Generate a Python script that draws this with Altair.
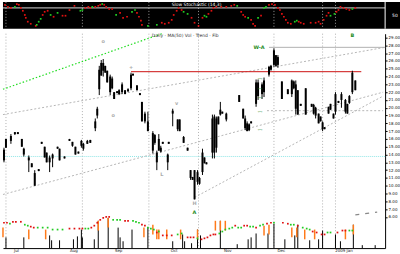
import json
import altair as alt
import pandas as pd

# ---------------- price bars (candles) ----------------
bar_t = [1,3,8,12,15,19,21,26,29,32,
         36,39,42,44,47,50,55,57,62,67,
         70,73,76,79,81,85,88,93,95,97,
         99,101,103,105,108,110,112,115,117,120,
         123,126,129,131,135,138,140,143,146,151,
         153,155,157,159,161,166,167,171,176,178,
         182,186,189,191,193,196,198,201,203,205,
         211,213,215,217,219,221,225,238,242,244,
         246,248,250,255,257,261,263,268,270,273,
         275,277,281,287,291,293,295,297,300,305,
         311,313,315,318,320,322,324,328,330,333,
         335,338,341,345,347,349,352,355]
bar_high = [14.875,16,16.625,16.875,16.875,16,14.875,13.875,12.875,12,
            12.125,15.625,15,14.25,13.875,14.125,15,14.75,13.75,16,
            15.625,15,14.375,15.875,15.5,15.875,15.875,18.625,20.125,25.375,
            26.125,26.25,25.375,24.75,24.25,24,22,22.125,22.375,23.25,
            22.25,22.5,24.5,24.375,22.875,21.875,20.75,19.5,19.5,17,
            16.625,14.5,16.625,15.125,15.625,14.125,15.625,19.875,18.5,18.5,
            16.375,14.875,12,11.125,12,12,11.125,14.75,13.625,13,
            19.125,19.125,18.875,18.875,20.75,19.5,19.375,21.625,19.875,19,
            18.25,18,18.25,23.625,23.625,23.25,23.875,25.375,25.5,27.625,
            26.75,26.75,23.375,22.375,23.625,23.5,23.5,22.25,20.5,22.5,
            20.5,20.5,20.125,19.25,18.875,18.25,17.5,20.125,20.5,19.25,
            22,20.875,22,21.125,20.5,21.625,24.75,23.5]
bar_low = [13,14.875,15.375,16.5,16.625,15,13.75,11.75,12.375,10,
           11.875,15.375,13.625,13,11.75,12.375,14.75,13.25,13.5,15.75,
           15,14,14.125,14.875,14.5,15.375,15.5,17,18.625,21.625,
           24.125,24,24.5,23.25,21.625,22.375,21.125,21.875,21.625,21.75,
           21.75,22,22.25,24.125,22.25,21.625,18.25,18,17,14.125,
           15.25,12,14.5,14.25,15.375,12,15.375,17.625,17,17,
           15.5,14.5,10.75,10.75,8.25,10.125,10.125,11.375,12.875,12.75,
           13.5,13.5,14.25,17.875,19,19.25,18.25,20.75,18.625,17.125,
           17,17,18,20.125,21,21.125,21.375,24,24.75,25.25,
           25.25,25.125,21.125,21.75,21.375,22.375,19.125,19.125,20.25,19.125,
           20.125,19.125,18.625,18,18.25,17,17.25,19.25,19.75,18.625,
           19.125,20.625,20,19.25,19.25,20.5,21.75,22.25]
bar_open = [14.625,16,16.375,16.875,16.875,16,14.75,13.625,12.875,11.625,
            12.125,15.625,15,14.25,13.625,14,15,14.75,13.75,16,
            15.625,15,14.375,15.75,15.375,15.75,15.875,18.25,19.875,24.875,
            25.75,25.75,25.375,24.75,24,23.75,22,22.125,22.25,23,
            22.25,22.375,24.25,24.375,22.875,21.875,20.75,19.25,18.25,16.75,
            16.5,14.25,16,14.875,15.625,14,15.625,19.625,18.5,18.5,
            16.25,14.875,12,11.125,12,11.75,11,14.25,13.625,13,
            18.625,18.875,18.625,18.875,19.75,19.5,19.25,21.625,19.875,18.625,
            18,17.875,18.25,23.25,23.25,23,23.5,25.25,25.375,27.375,
            26.75,26.5,23.375,22.375,23.5,23.375,23,22.25,20.5,22.5,
            20.5,20.375,20,19.25,18.875,18.125,17.5,20.125,20.5,19.25,
            21.75,20.875,21.75,21,20.5,21.5,24.5,23.5]
bar_close = [13.25,14.875,15.75,16.625,16.625,15,14,13.25,12.375,10,
             11.875,15.375,13.625,13,13,13.5,14.75,13.25,13.5,15.75,
             15.125,14,14.125,15.125,14.75,15.375,15.5,17.375,19,22.375,
             24.125,24.75,24.5,23.25,22,22.5,21.125,21.875,21.75,22,
             21.75,22.125,22.5,24.125,22.25,21.625,18.25,18.25,17,14.5,
             15.5,13,14.5,14.375,15.375,13,15.375,19.25,17.25,17,
             15.5,14.5,11,10.75,8.25,10.5,10.25,11.75,12.875,12.75,
             14.25,14.25,14.875,17.875,19.125,19.25,18.5,20.75,18.625,17.375,
             17,17.125,18,20.5,21.5,21.75,22,24.25,24.875,25.5,
             25.375,25.5,21.125,21.75,21.75,22.5,19.875,19.125,20.25,19.125,
             20.125,19.25,19,18,18.25,17.25,17.25,19.25,19.75,18.625,
             19.5,20.625,21,19.5,19.25,20.625,22,22.25]

# ---------------- volume ----------------
vol_t = [0,3,21,26,43,47,49,57,71,75,79,80,92,96,106,116,118,121,130,142,
         146,151,155,157,165,171,179,181,183,190,196,199,214,219,224,236,247,250,255,263,
         267,268,273,284,291,294,296,297,304,309,314,318,322,335,340,345,353,362,375]
vol_v = [210,110,110,190,190,130,80,80,90,120,190,110,90,280,310,210,110,70,190,210,
         210,240,190,190,190,70,190,140,70,50,190,130,280,280,280,40,90,110,150,230,
         150,240,250,90,210,130,210,240,190,80,190,90,180,140,70,190,240,30,30]
vol_kind = ['o','k','k','o','o','k','k','k','k','k','k','k','k','ko','ko','k','k','k','k','o',
            'k','o','o','o','o','k','o','k','k','k','ko','k','o','ko','o','k','k','k','k','o',
            'k','o','k','k','o','k','o','k','o','k','o','k','k','k','k','o','ko','k','k']

# volume moving average dots
vma_t = [1,4,7,10,13,18,22,25,28,31,35,40,45,50,55,60,67,72,77,80,
         83,86,89,92,95,98,101,104,107,111,115,118,123,126,131,134,137,140,143,146,
         149,152,155,157,161,165,170,176,180,186,189,192,196,200,203,206,209,212,214,218,
         221,224,228,231,234,237,240,243,246,249,252,255,259,262,266,270,273,282,287,290,
         293,297,302,306,309,312,316,321,324,327,330,337,342,345,349,352]
vma_v = [260,260,250,270,270,270,240,230,220,210,210,210,210,190,190,190,200,200,200,200,
         200,200,210,230,260,290,310,320,320,290,290,290,280,280,280,270,260,240,230,210,
         200,190,160,170,130,130,130,140,150,110,110,110,100,90,100,110,130,140,140,150,
         170,190,200,210,230,210,210,230,230,220,220,210,230,240,250,260,260,260,250,240,
         240,230,210,200,190,170,160,140,140,160,160,160,180,180,180,180]
vma_c = ['r','r','g','r','r','r','g','g','r','r','g','g','g','g','g','g','r','r','r','r',
         'g','g','r','r','r','r','r','r','r','g','g','g','r','r','g','g','g','r','r','g',
         'g','g','r','g','r','r','r','g','g','r','r','r','g','r','r','r','r','r','r','g',
         'g','g','g','g','r','g','g','r','r','g','g','r','g','g','r','r','g','r','r','g',
         'g','r','g','g','g','r','r','r','r','g','g','r','r','r','g','g']

# ---------------- oscillator (top panel) ----------------
osc_t = [2,5,8,12,14,16,18,20,22,23,25,28,33,34,36,38,40,42,45,48,
         51,55,60,63,67,72,78,80,83,86,88,90,93,96,98,100,102,104,107,110,
         114,118,121,125,130,133,135,137,139,140,146,155,160,163,167,170,172,175,177,180,
         182,186,190,193,197,201,203,205,207,210,212,215,220,225,230,233,236,240,242,244,
         247,250,252,254,257,260,263,265,268,271,274,277,279,281,283,285,287,290,294,296,
         298,300,303,310,315,318,320,323,326,328,330,334,336,338,340,343,346,349,352,355]
osc_v = [92,84,80,84,95,92,80,69,53,42,27,19,11,15,27,38,53,65,69,53,
         46,61,50,50,72,88,69,72,80,84,80,84,84,88,92,95,92,84,76,76,
         53,61,42,46,65,72,61,46,31,15,11,15,23,19,23,34,53,69,80,72,
         65,57,42,23,11,42,50,46,57,69,80,84,84,84,88,92,88,65,53,46,
         42,34,19,11,42,50,80,84,92,95,92,80,72,57,46,34,23,19,27,31,
         27,23,19,23,23,27,19,34,50,61,50,57,65,72,84,80,76,72,76,80]
osc_green_t = [12,34,36,38,48,55,78,80,90,100,114,130,133,146,155,182,186,203,205,
               236,247,257,263,265,294,296,330,334,352]
osc_ref = 80

# ---------------- reference lines ----------------
grid_t = [3, 80, 147, 197, 273, 322, 335]
cyan_level = [13.75]
dotted_id = ['a','a','b','b','c','c','d','d']
dotted_t = [0, 385, 0, 383, 193, 383, 266, 383]
dotted_p = [19.125, 27.75, 8.875, 22.0, 8.5, 21.5, 19.625, 19.625]
green_t = [0, 160]
green_p = [22.375, 29.5]
red_t = [129, 361]
red_p = 24.625
gray_t = [268, 385]
gray_p = 27.75
dash_t = [355, 377]
dash_p = [6.25, 6.625]

# ---------------- labels ----------------
lab_t = [101, 111, 129, 175, 160, 193, 193, 352, 258]
lab_p = [28.625, 19.125, 25.25, 20.625, 11.5, 7.75, 6.625, 29.375, 27.75]
lab_txt = ['o', 'o', '+', 'v', 'L', 'H', 'A', 'B', 'W-A']
lab_col = ['#aaaaaa','#aaaaaa','#aaaaaa','#aaaaaa','#aaaaaa','#aaaaaa','#1a8a1a','#1a8a1a','#1a8a1a']
fib_t = [259, 259, 259, 259, 259]
fib_p = [23.625, 22.375, 21.25, 19.5, 17.125]
fib_txt = ['-·-', '-·-', '-·-', '-·-', '-·-']

price_ticks = list(range(6, 30))
month_pos = [13, 71, 116, 172, 226, 280, 343]
month_lab = ['Jul', 'Aug', 'Sep', 'Oct', 'Nov', 'Dec', '2009 Jan']

PRICE_DOMAIN = [2.0, 29.5]
VOL_DOMAIN = [0, 2200]
X_MAX = 385

# ---------------- frames ----------------
bars_df = pd.DataFrame({'t': bar_t, 'high': bar_high, 'low': bar_low,
                        'open': bar_open, 'close': bar_close})
vol_df = pd.DataFrame({'t': vol_t, 'v': vol_v, 'kind': vol_kind})
vol_df['base'] = 0
vol_df['otop'] = vol_df['v']
vol_df['obot'] = vol_df['v'] - 100
vol_black = vol_df[vol_df['kind'].str.contains('k')]
vol_orange = vol_df[vol_df['kind'].str.contains('o')]
vma_df = pd.DataFrame({'t': vma_t, 'v': vma_v, 'c': vma_c})
osc_df = pd.DataFrame({'t': osc_t, 'o': osc_v})
osc_df['c'] = ['g' if t in osc_green_t else 'r' for t in osc_t]

grid_df = pd.DataFrame({'t': grid_t})
cyan_df = pd.DataFrame({'p': cyan_level})
dotted_df = pd.DataFrame({'id': dotted_id, 't': dotted_t, 'p': dotted_p})
green_df = pd.DataFrame({'t': green_t, 'p': green_p})
red_df = pd.DataFrame({'t': [red_t[0]], 't2': [red_t[1]], 'p': [red_p]})
gray_df = pd.DataFrame({'t': [gray_t[0]], 't2': [gray_t[1]], 'p': [gray_p]})
dash_df = pd.DataFrame({'t': dash_t, 'p': dash_p})
lab_df = pd.DataFrame({'t': lab_t, 'p': lab_p, 'txt': lab_txt, 'col': lab_col})
fib_df = pd.DataFrame({'t': fib_t, 'p': fib_p, 'txt': fib_txt})

# ---------------- scales / axes ----------------
label_expr = "%s[indexof(%s, datum.value)]" % (json.dumps(month_lab), json.dumps(month_pos))
x_axis = alt.Axis(values=month_pos, labelExpr=label_expr, tickSize=0, domainColor='#000',
                  labelFontSize=4, labelPadding=0, grid=False, title=None,
                  labelColor='#222', labelOverlap=False, labelFont='DejaVu Sans')
xs = alt.Scale(domain=[0, X_MAX], nice=False, zero=False)
X = alt.X('t:Q', scale=xs, axis=x_axis)
price_scale = alt.Scale(domain=PRICE_DOMAIN, nice=False, zero=False)
price_axis = alt.Axis(orient='right', values=price_ticks, format='.2f', labelFontSize=4,
                      labelColor='#111', tickSize=2, tickColor='#000', domainColor='#000',
                      grid=False, labelPadding=1, title=None, labelFont='DejaVu Sans')


def PY(field):
    return alt.Y(field, scale=price_scale, axis=price_axis)


vol_scale = alt.Scale(domain=VOL_DOMAIN, nice=False, zero=False)

grid = alt.Chart(grid_df).mark_rule(color='#b0b0b0', strokeDash=[1, 2], strokeWidth=1).encode(x=X)
cyan = alt.Chart(cyan_df).mark_rule(color='#8fe6e6', strokeDash=[1, 1], strokeWidth=1).encode(y=PY('p:Q'))
dotted = alt.Chart(dotted_df).mark_line(color='#b5b5b5', strokeDash=[2, 2], strokeWidth=1).encode(
    x=X, y=PY('p:Q'), detail='id:N')
green = alt.Chart(green_df).mark_line(color='#22dd22', strokeDash=[1.5, 2], strokeWidth=1.2).encode(
    x=X, y=PY('p:Q'))
red = alt.Chart(red_df).mark_rule(color='#cc1111', strokeWidth=1).encode(x=X, x2='t2:Q', y=PY('p:Q'))
gray = alt.Chart(gray_df).mark_rule(color='#b0b0b0', strokeWidth=1).encode(x=X, x2='t2:Q', y=PY('p:Q'))
dash = alt.Chart(dash_df).mark_line(color='#888888', strokeDash=[4, 6], strokeWidth=1.3).encode(
    x=X, y=PY('p:Q'))
wick = alt.Chart(bars_df).mark_rule(color='#000', strokeWidth=1).encode(x=X, y=PY('high:Q'), y2='low:Q')
body = alt.Chart(bars_df).mark_rule(color='#000', strokeWidth=2).encode(x=X, y=PY('open:Q'), y2='close:Q')
labels = alt.Chart(lab_df).mark_text(fontSize=5, fontWeight='bold', font='DejaVu Sans').encode(
    x=X, y=PY('p:Q'), text='txt:N', color=alt.Color('col:N', scale=None))
fibs = alt.Chart(fib_df).mark_text(fontSize=4, fontWeight='bold', color='#2a8a2a', font='DejaVu Sans').encode(
    x=X, y=PY('p:Q'), text='txt:N')
title_df = pd.DataFrame({'t': [150], 'p': [29.2], 'txt': ['Daily  ·  MA(50)  Vol  ·  Trend  ·  Fib']})
title = alt.Chart(title_df).mark_text(fontSize=4.5, align='left', color='#333', font='DejaVu Sans').encode(
    x=X, y=PY('p:Q'), text='txt:N')

price_layers = alt.layer(grid, cyan, dotted, green, red, gray, dash, wick, body, labels, fibs, title)

vb = alt.Chart(vol_black).mark_rule(color='#000', strokeWidth=1).encode(
    x=X, y=alt.Y('v:Q', scale=vol_scale, axis=None), y2='base:Q')
vo = alt.Chart(vol_orange).mark_rule(color='#ff7a1a', strokeWidth=1.5).encode(
    x=X, y=alt.Y('otop:Q', scale=vol_scale, axis=None), y2='obot:Q')
vm = alt.Chart(vma_df).mark_square(size=3, opacity=1).encode(
    x=X, y=alt.Y('v:Q', scale=vol_scale, axis=None),
    color=alt.Color('c:N', scale=alt.Scale(domain=['r', 'g'], range=['#e01010', '#22cc22']), legend=None))
vol_layers = alt.layer(vb, vo, vm)

main = alt.layer(price_layers, vol_layers).resolve_scale(y='independent').properties(width=385, height=216)

# ---------------- top oscillator panel ----------------
XT = alt.X('t:Q', scale=alt.Scale(domain=[0, 400], nice=False, zero=False), axis=None)
osc_scale = alt.Scale(domain=[0, 103], nice=False, zero=False)
YT = alt.Y('o:Q', scale=osc_scale, axis=None)
tgrid = alt.Chart(grid_df).mark_rule(color='#9a9a9a', strokeDash=[1, 2]).encode(x=XT)
tref = alt.Chart(pd.DataFrame({'t': [0], 't2': [X_MAX], 'o': [osc_ref]})).mark_rule(
    color='#d8d8d8', strokeWidth=1).encode(x=XT, x2='t2:Q', y=YT)
tedge = alt.Chart(pd.DataFrame({'t': [X_MAX]})).mark_rule(color='#ffffff', strokeWidth=1).encode(x=XT)
tosc = alt.Chart(osc_df).mark_square(size=3, opacity=1).encode(
    x=XT, y=YT,
    color=alt.Color('c:N', scale=alt.Scale(domain=['r', 'g'], range=['#e01010', '#22cc22']), legend=None))
ttext = alt.Chart(pd.DataFrame({'t': [170, 392], 'o': [90, 50], 'txt': ['Slow Stochastic (14,3)', '50']})).mark_text(
    fontSize=4.5, align='left', color='#ffffff', font='DejaVu Sans').encode(x=XT, y=YT, text='txt:N')
top = alt.layer(tgrid, tref, tedge, tosc, ttext).properties(
    width=400, height=27, view=alt.ViewBackground(fill='#000000', stroke=None))

chart = alt.vconcat(top, main, spacing=1).resolve_scale(x='independent', y='independent').properties(
    padding=0, background='#ffffff').configure_view(stroke=None)

chart.save("out.html", embed_options={"renderer": "svg", "actions": False})
